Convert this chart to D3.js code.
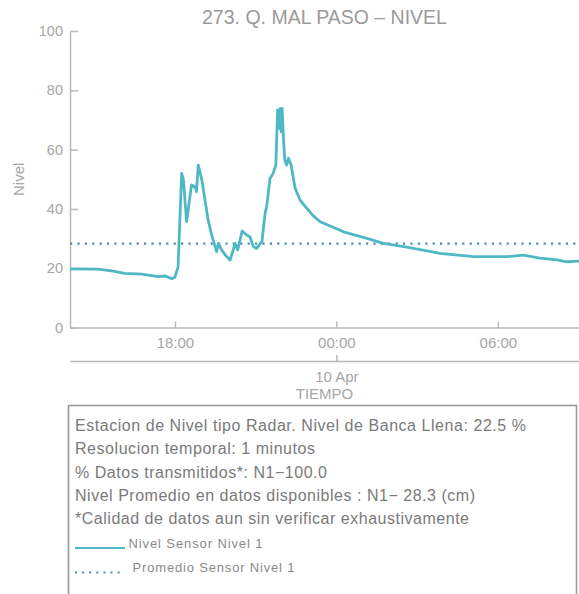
<!DOCTYPE html>
<html>
<head>
<meta charset="utf-8">
<script src="https://cdn.jsdelivr.net/npm/d3@7"></script>
<style>
  html, body { margin: 0; padding: 0; background: #fff; }
  svg { display: block; font-family: "Liberation Sans", Arial, sans-serif; }
</style>
</head>
<body>
<svg id="chart" width="579" height="594"></svg>
<script>
// ---------------- data ----------------
const chartTitle = "273. Q. MAL PASO \u2013 NIVEL";
const yLabel = "Nivel";
const xLabel = "TIEMPO";
const yTicks = [0, 20, 40, 60, 80, 100];
const xTickTimes = ["2024-04-09 18:00", "2024-04-10 00:00", "2024-04-10 06:00"];
const dayTickTimes = ["2024-04-10 00:00"];
const dayTickLabels = ["10 Apr"];
const xDomain = ["2024-04-09 14:06", "2024-04-10 09:01"];
const meanLevel = 28.3;

const times = [
  "2024-04-09 14:06","2024-04-09 15:08","2024-04-09 15:39","2024-04-09 16:08","2024-04-09 16:46",
  "2024-04-09 17:23","2024-04-09 17:38","2024-04-09 17:53","2024-04-09 18:00","2024-04-09 18:07",
  "2024-04-09 18:15","2024-04-09 18:19","2024-04-09 18:26","2024-04-09 18:37","2024-04-09 18:45",
  "2024-04-09 18:48","2024-04-09 18:52","2024-04-09 19:00","2024-04-09 19:07","2024-04-09 19:14",
  "2024-04-09 19:22","2024-04-09 19:33","2024-04-09 19:37","2024-04-09 19:44","2024-04-09 19:52",
  "2024-04-09 20:03","2024-04-09 20:10","2024-04-09 20:14","2024-04-09 20:20","2024-04-09 20:23",
  "2024-04-09 20:30","2024-04-09 20:40","2024-04-09 20:47","2024-04-09 20:55","2024-04-09 21:02",
  "2024-04-09 21:14","2024-04-09 21:21","2024-04-09 21:25","2024-04-09 21:32","2024-04-09 21:39",
  "2024-04-09 21:45","2024-04-09 21:49","2024-04-09 21:52","2024-04-09 21:55","2024-04-09 21:57",
  "2024-04-09 21:59","2024-04-09 22:02","2024-04-09 22:05","2024-04-09 22:09","2024-04-09 22:13",
  "2024-04-09 22:19","2024-04-09 22:28","2024-04-09 22:39","2024-04-09 22:54","2024-04-09 23:09",
  "2024-04-09 23:24","2024-04-10 00:16","2024-04-10 01:08","2024-04-10 01:45","2024-04-10 02:37",
  "2024-04-10 03:51","2024-04-10 05:06","2024-04-10 06:20","2024-04-10 06:57","2024-04-10 07:34",
  "2024-04-10 08:12","2024-04-10 08:34","2024-04-10 09:01"
];
const levels = [
  19.8, 19.7, 19.1, 18.3, 18.0,
  17.2, 17.4, 16.5, 17.0, 20.5,
  52.0, 49.8, 35.7, 48.1, 47.5,
  45.8, 54.8, 49.8, 43.0, 36.3,
  31.2, 25.6, 28.4, 26.2, 24.5,
  22.8, 26.2, 28.4, 26.2, 28.2,
  32.6, 31.2, 30.6, 27.3, 26.7,
  29.0, 38.5, 41.3, 50.3, 52.0,
  54.8, 73.4, 67.2, 73.9, 66.0,
  73.9, 63.8, 56.5, 54.8, 57.1,
  54.8, 47.0, 43.0, 40.2, 37.6,
  35.7, 32.3, 30.1, 28.4, 27.1,
  25.0, 23.9, 23.9, 24.4, 23.4,
  22.8, 22.2, 22.4
];

const infoLines = [
  "Estacion de Nivel tipo Radar. Nivel de Banca Llena: 22.5 %",
  "Resolucion temporal: 1 minutos",
  "% Datos transmitidos*: N1\u2212100.0",
  "Nivel Promedio en datos disponibles : N1\u2212 28.3 (cm)",
  "*Calidad de datos aun sin verificar exhaustivamente"
];
const legendLabels = ["Nivel Sensor Nivel 1", "Promedio Sensor Nivel 1"];

// ---------------- layout / style ----------------
const plot = { left: 70, right: 579, top: 31, bottom: 327.6 };
const dayAxisY = 361;
const lineColor = "#4fb8c5";
const meanColor = "#4a8fa6";
const axisColor = "#b8b8b8";
const tickTextColor = "#a6a6a6";
const infoWidths = [451, 240, 252, 400, 394];
const legendWidths = [134, 162];

const parse = d3.timeParse("%Y-%m-%d %H:%M");
const data = times.map((t, i) => ({ t: parse(t), v: levels[i] }));

const svg = d3.select("#chart");

const x = d3.scaleTime().domain(xDomain.map(parse)).range([plot.left, plot.right]);
const y = d3.scaleLinear().domain([0, 100]).range([plot.bottom, plot.top]);

// title
svg.append("text")
  .attr("x", (plot.left + plot.right) / 2).attr("y", 24)
  .attr("text-anchor", "middle")
  .attr("font-size", 19.5).attr("fill", "#9a9a9a")
  .text(chartTitle);

// y axis
const yAxis = svg.append("g")
  .attr("transform", `translate(${plot.left},0)`)
  .call(d3.axisLeft(y).tickValues(yTicks).tickSize(-8).tickSizeOuter(0).tickPadding(7));
yAxis.selectAll("text").attr("font-size", 14.5).attr("fill", tickTextColor).attr("font-family", "Liberation Sans, Arial, sans-serif");

// y label
svg.append("text")
  .attr("transform", `translate(24,${(plot.top + plot.bottom) / 2}) rotate(-90)`)
  .attr("text-anchor", "middle")
  .attr("font-size", 15).attr("fill", tickTextColor)
  .text(yLabel);

// x axis (hours)
const xAxis = svg.append("g")
  .attr("transform", `translate(0,${plot.bottom})`)
  .call(d3.axisBottom(x).tickValues(xTickTimes.map(parse)).tickFormat(d3.timeFormat("%H:%M"))
    .tickSize(-6).tickSizeOuter(0).tickPadding(10));
xAxis.selectAll("text").attr("font-size", 15).attr("fill", tickTextColor).attr("font-family", "Liberation Sans, Arial, sans-serif");

// x axis (days)
const dayAxis = svg.append("g")
  .attr("transform", `translate(0,${dayAxisY})`)
  .call(d3.axisBottom(x).tickValues(dayTickTimes.map(parse)).tickFormat((d, i) => dayTickLabels[i])
    .tickSize(-6).tickSizeOuter(0).tickPadding(10));
dayAxis.selectAll("text").attr("font-size", 15).attr("fill", tickTextColor).attr("font-family", "Liberation Sans, Arial, sans-serif");

svg.selectAll(".domain, .tick line").attr("stroke", axisColor).attr("stroke-width", 1.5);

// x label
svg.append("text")
  .attr("x", (plot.left + plot.right) / 2).attr("y", 398.5)
  .attr("text-anchor", "middle")
  .attr("font-size", 15).attr("fill", tickTextColor)
  .text(xLabel);

// clip
svg.append("clipPath").attr("id", "clip")
  .append("rect").attr("x", plot.left).attr("y", plot.top - 5)
  .attr("width", plot.right - plot.left).attr("height", plot.bottom - plot.top + 5);

// mean line
svg.append("line")
  .attr("clip-path", "url(#clip)")
  .attr("x1", x.range()[0]).attr("x2", x.range()[1])
  .attr("y1", y(meanLevel)).attr("y2", y(meanLevel))
  .attr("stroke", meanColor).attr("stroke-width", 2.2)
  .attr("stroke-dasharray", "2.2,5.2");

// level line
const line = d3.line().x(d => x(d.t)).y(d => y(d.v));
svg.append("path")
  .datum(data)
  .attr("clip-path", "url(#clip)")
  .attr("d", line)
  .attr("fill", "none")
  .attr("stroke", lineColor).attr("stroke-width", 2.8)
  .attr("stroke-linejoin", "round");

// info box
svg.append("rect")
  .attr("x", 68.5).attr("y", 405.5).attr("width", 508).attr("height", 200)
  .attr("fill", "none").attr("stroke", "#999").attr("stroke-width", 1.6);

const infoY0 = 431, infoDY = 23.3;
svg.selectAll("text.info").data(infoLines).join("text")
  .attr("class", "info")
  .attr("x", 75).attr("y", (d, i) => infoY0 + i * infoDY)
  .attr("font-size", 16).attr("fill", "#7a7a7a")
  .attr("textLength", (d, i) => infoWidths[i]).attr("lengthAdjust", "spacing")
  .text(d => d);

// legend
const legY = [548, 572.5];
svg.append("line")
  .attr("x1", 75).attr("x2", 125).attr("y1", legY[0]).attr("y2", legY[0])
  .attr("stroke", lineColor).attr("stroke-width", 2);
svg.append("line")
  .attr("x1", 75).attr("x2", 124).attr("y1", legY[1]).attr("y2", legY[1])
  .attr("stroke", meanColor).attr("stroke-width", 2)
  .attr("stroke-dasharray", "2,5.1");
svg.selectAll("text.leg").data(legendLabels).join("text")
  .attr("class", "leg")
  .attr("x", (d, i) => i === 0 ? 128.5 : 132.5)
  .attr("y", (d, i) => legY[i] - 0.5)
  .attr("font-size", 13).attr("fill", "#8a8a8a")
  .attr("textLength", (d, i) => legendWidths[i]).attr("lengthAdjust", "spacing")
  .text(d => d);
</script>
</body>
</html>
